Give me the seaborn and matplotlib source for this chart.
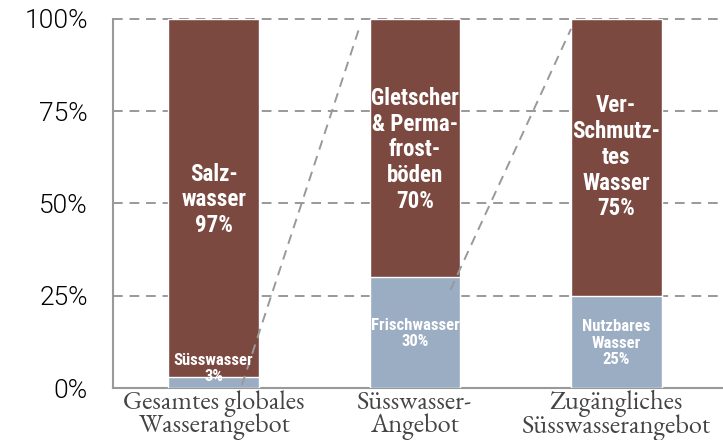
import matplotlib
matplotlib.use("Agg")
import matplotlib.pyplot as plt
import seaborn as sns
import pandas as pd

# Daten
kategorien = ["Gesamtes globales\nWasserangebot", "Süsswasser-\nAngebot", "Zugängliches\nSüsswasserangebot"]
anteil_unten = [3, 30, 25]
anteil_oben = [97, 70, 75]
label_unten = ["Süsswasser\n3%", "Frischwasser\n30%", "Nutzbares\nWasser\n25%"]
label_oben = ["Salz-\nwasser\n97%", "Gletscher\n& Perma-\nfrost-\nböden\n70%", "Ver-\nSchmutz-\ntes\nWasser\n75%"]
label_unten_y = [5.3, 14.8, 12.2]
label_oben_y = [51, 64.5, 62.5]
yticks = [0, 25, 50, 75, 100]
ytick_labels = ["0%", "25%", "50%", "75%", "100%"]
# Verbindungslinien (x, y in Datenkoordinaten)
linie1_x = [0.14, 0.72]
linie1_y = [0.8, 97]
linie2_x = [1.176, 1.775]
linie2_y = [26.6, 97.3]

BRAUN = "#7B4940"
BLAU = "#9BADC2"
GRAU = "#999999"

sns.set_theme(style="white")
plt.rcParams["font.family"] = ["Liberation Sans", "DejaVu Sans"]

df = pd.DataFrame({
    "kategorie": kategorien,
    "unten": anteil_unten,
    "gesamt": [u + o for u, o in zip(anteil_unten, anteil_oben)],
})

fig = plt.figure(figsize=(7.23, 4.4), dpi=100)
ax = fig.add_axes([0.1563, 0.118, 0.8437, 0.839])

sns.barplot(data=df, x="kategorie", y="gesamt", color=BRAUN, width=0.45,
            saturation=1, ax=ax, zorder=2)
sns.barplot(data=df, x="kategorie", y="unten", color=BLAU, width=0.45,
            saturation=1, ax=ax, zorder=3)

ax.set_xlim(-0.5, 2.53)
ax.set_ylim(0, 100)
ax.set_yticks(yticks)
ax.set_yticklabels(ytick_labels)
ax.set_xlabel("")
ax.set_ylabel("")
ax.tick_params(axis="y", length=0, pad=18)
ax.tick_params(axis="x", length=0, pad=1.5)
for lab in ax.get_yticklabels():
    lab.set_family(["Roboto", "DejaVu Sans"])
    lab.set_fontweight(300)
    lab.set_fontsize(19)
    lab.set_color("black")
for lab in ax.get_xticklabels():
    lab.set_family(["EB Garamond", "DejaVu Serif"])
    lab.set_fontsize(19)
    lab.set_color("#444444")
    lab.set_linespacing(0.82)

# Gitterlinien
for y in yticks[1:]:
    ax.axhline(y, color=GRAU, lw=1.4, ls=(0, (5, 3.5)), zorder=1, clip_on=False)

for side in ["top", "right"]:
    ax.spines[side].set_visible(False)
for side in ["left", "bottom"]:
    ax.spines[side].set_color(GRAU)
    ax.spines[side].set_linewidth(1.5)

# Verbindungslinien
ax.plot(linie1_x, linie1_y, color=GRAU, lw=1.4, ls=(0, (5, 3.5)), zorder=4)
ax.plot(linie2_x, linie2_y, color=GRAU, lw=1.4, ls=(0, (5, 3.5)), zorder=4)

schrift = ["Roboto Condensed", "DejaVu Sans"]
for i in range(len(kategorien)):
    ax.text(i, label_oben_y[i], label_oben[i], ha="center", va="center",
            color="white", fontsize=16.5, fontweight="bold", family=schrift,
            linespacing=1.15, zorder=5)
    ax.text(i, label_unten_y[i], label_unten[i], ha="center", va="center",
            color="white", fontsize=12, fontweight="bold", family=schrift,
            linespacing=1.15, zorder=5)

fig.savefig("out.png", dpi=100)
